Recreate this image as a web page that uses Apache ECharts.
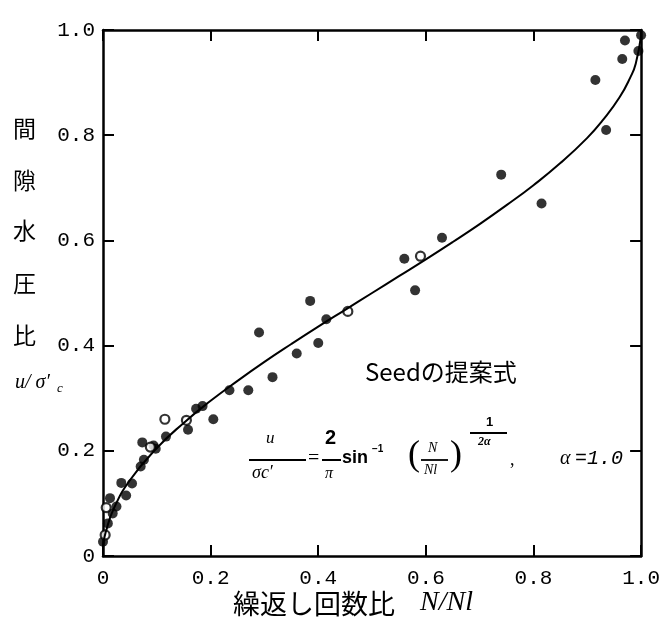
<!DOCTYPE html>
<html><head><meta charset="utf-8">
<script src="https://cdn.jsdelivr.net/npm/echarts@6/dist/echarts.min.js"></script>
<style>html,body{margin:0;padding:0;background:#fff}#c{width:663px;height:628px}</style>
</head><body><div id="c"></div>
<script>
// tick values
const xTicks = [0, 0.2, 0.4, 0.6, 0.8, 1.0];
const yTicks = [0, 0.2, 0.4, 0.6, 0.8, 1.0];
// measured points (filled circles)
const filledPoints = [
 [0.0,0.027],[0.009,0.062],[0.018,0.081],[0.025,0.094],[0.013,0.11],[0.043,0.115],
 [0.034,0.139],[0.054,0.138],[0.07,0.17],[0.076,0.183],[0.073,0.216],[0.098,0.204],
 [0.094,0.21],[0.117,0.227],[0.158,0.24],[0.173,0.28],[0.185,0.285],[0.205,0.26],
 [0.235,0.315],[0.27,0.315],[0.29,0.425],[0.315,0.34],[0.36,0.385],[0.385,0.485],
 [0.40,0.405],[0.415,0.45],[0.56,0.565],[0.58,0.505],[0.63,0.605],[0.74,0.725],
 [0.815,0.67],[0.915,0.905],[0.935,0.81],[0.965,0.945],[0.97,0.98],[0.995,0.96],[1.0,0.99]
];
// measured points (open circles)
const openPoints = [
 [0.004,0.04],[0.006,0.092],[0.088,0.207],[0.115,0.26],[0.155,0.258],[0.455,0.465],[0.59,0.57]
];
// Seed curve
const curvePoints = [
 [0,0.02],[0.005,0.045],[0.02,0.09],[0.05,0.144],[0.1,0.205],[0.15,0.253],[0.2,0.295],
 [0.25,0.333],[0.3,0.369],[0.35,0.403],[0.4,0.436],[0.45,0.468],[0.5,0.5],[0.55,0.532],
 [0.6,0.564],[0.65,0.597],[0.7,0.631],[0.75,0.667],[0.8,0.705],[0.85,0.747],[0.9,0.795],
 [0.93,0.83],[0.96,0.872],[0.98,0.91],[0.99,0.936],[1.0,0.99]
];

const fmt = v => (Math.abs(v) < 1e-9 ? '0' : v.toFixed(1));
const chart = echarts.init(document.getElementById('c'));
const tickFont = {fontFamily:'Liberation Mono', fontSize:21, color:'#000'};
const axisCommon = {
  min:0, max:1, interval:0.2,
  axisLine:{show:true, onZero:false, lineStyle:{color:'#000', width:2.5}},
  axisTick:{show:true, inside:true, length:11, lineStyle:{color:'#000', width:2}},
  splitLine:{show:false}
};
chart.setOption({
  backgroundColor:'#fff',
  animation:false,
  grid:{left:103, top:30, width:546, height:526},
  xAxis:[
    Object.assign({type:'value', position:'bottom',
      axisLabel:Object.assign({margin:12, formatter:fmt}, tickFont)}, axisCommon),
    Object.assign({type:'value', position:'top', axisLabel:{show:false}}, axisCommon)
  ],
  yAxis:[
    Object.assign({type:'value', position:'left',
      axisLabel:Object.assign({margin:8, formatter:fmt}, tickFont)}, axisCommon),
    Object.assign({type:'value', position:'right', axisLabel:{show:false}}, axisCommon)
  ],
  series:[
    {type:'line', data:curvePoints, smooth:true, showSymbol:false, clip:false,
     lineStyle:{color:'#000', width:2}},
    {type:'scatter', data:filledPoints, symbol:'circle', symbolSize:10, clip:false,
     itemStyle:{color:'#000'}},
    {type:'scatter', data:openPoints, symbol:'circle', symbolSize:9, clip:false,
     itemStyle:{color:'#fff', borderColor:'#000', borderWidth:2.2}}
  ],
  graphic:[
    // y-axis title (vertical)
    {type:'text', left:13, top:117, style:{text:'間', font:'23px "Noto Sans CJK JP"', fill:'#000'}},
    {type:'text', left:13, top:169, style:{text:'隙', font:'23px "Noto Sans CJK JP"', fill:'#000'}},
    {type:'text', left:13, top:219, style:{text:'水', font:'23px "Noto Sans CJK JP"', fill:'#000'}},
    {type:'text', left:13, top:272, style:{text:'圧', font:'23px "Noto Sans CJK JP"', fill:'#000'}},
    {type:'text', left:13, top:324, style:{text:'比', font:'23px "Noto Sans CJK JP"', fill:'#000'}},
    {type:'text', left:15, top:373, style:{text:"u/ σ′", font:'italic 20px "Liberation Serif"', fill:'#000'}},
    {type:'text', left:57, top:382, style:{text:'c', font:'italic 13px "Liberation Serif"', fill:'#000'}},
    // x-axis title
    {type:'text', left:233, top:590, style:{text:'繰返し回数比', font:'27px "Noto Sans CJK JP"', fill:'#000'}},
    {type:'text', left:420, top:589, style:{text:'N/Nl', font:'italic 28px "Liberation Serif"', fill:'#000'}},
    // annotation
    {type:'text', left:365, top:360, style:{text:'Seedの提案式', font:'24px "Noto Sans CJK JP"', fill:'#000'}},
    // formula: u / σc'
    {type:'text', left:266, top:430, style:{text:'u', font:'italic 17px "Liberation Serif"', fill:'#000'}},
    {type:'line', shape:{x1:249, y1:460, x2:306, y2:460}, style:{stroke:'#000', lineWidth:2}},
    {type:'text', left:252, top:464, style:{text:"σc′", font:'italic 18px "Liberation Serif"', fill:'#000'}},
    {type:'text', left:308, top:449, style:{text:'=', font:'20px "Liberation Serif"', fill:'#000'}},
    // 2 / π
    {type:'text', left:325, top:428, style:{text:'2', font:'bold 20px "Liberation Sans"', fill:'#000'}},
    {type:'line', shape:{x1:322, y1:460, x2:341, y2:460}, style:{stroke:'#000', lineWidth:2}},
    {type:'text', left:325, top:466, style:{text:'π', font:'italic 16px "Liberation Serif"', fill:'#000'}},
    {type:'text', left:342, top:449, style:{text:'sin', font:'bold 18px "Liberation Sans"', fill:'#000'}},
    {type:'text', left:372, top:444, style:{text:'−1', font:'bold 10px "Liberation Sans"', fill:'#000'}},
    // ( N / Nl )
    {type:'text', left:408, top:438, style:{text:'(', font:'36px "Liberation Serif"', fill:'#000'}},
    {type:'text', left:428, top:441, style:{text:'N', font:'italic 14px "Liberation Serif"', fill:'#000'}},
    {type:'line', shape:{x1:421, y1:460, x2:448, y2:460}, style:{stroke:'#000', lineWidth:1.8}},
    {type:'text', left:424, top:463, style:{text:'Nl', font:'italic 14px "Liberation Serif"', fill:'#000'}},
    {type:'text', left:450, top:438, style:{text:')', font:'36px "Liberation Serif"', fill:'#000'}},
    // exponent 1 / 2α
    {type:'text', left:486, top:416, style:{text:'1', font:'bold 13px "Liberation Sans"', fill:'#000'}},
    {type:'line', shape:{x1:470, y1:433, x2:507, y2:433}, style:{stroke:'#000', lineWidth:1.8}},
    {type:'text', left:478, top:436, style:{text:'2α', font:'bold italic 12px "Liberation Serif"', fill:'#000'}},
    {type:'text', left:510, top:451, style:{text:',', font:'18px "Liberation Serif"', fill:'#000'}},
    {type:'text', left:560, top:449, style:{text:'α', font:'italic 20px "Liberation Serif"', fill:'#000'}},
    {type:'text', left:575, top:449, style:{text:'=1.0', font:'italic 20px "Liberation Mono"', fill:'#000'}}
  ]
});
</script></body></html>
